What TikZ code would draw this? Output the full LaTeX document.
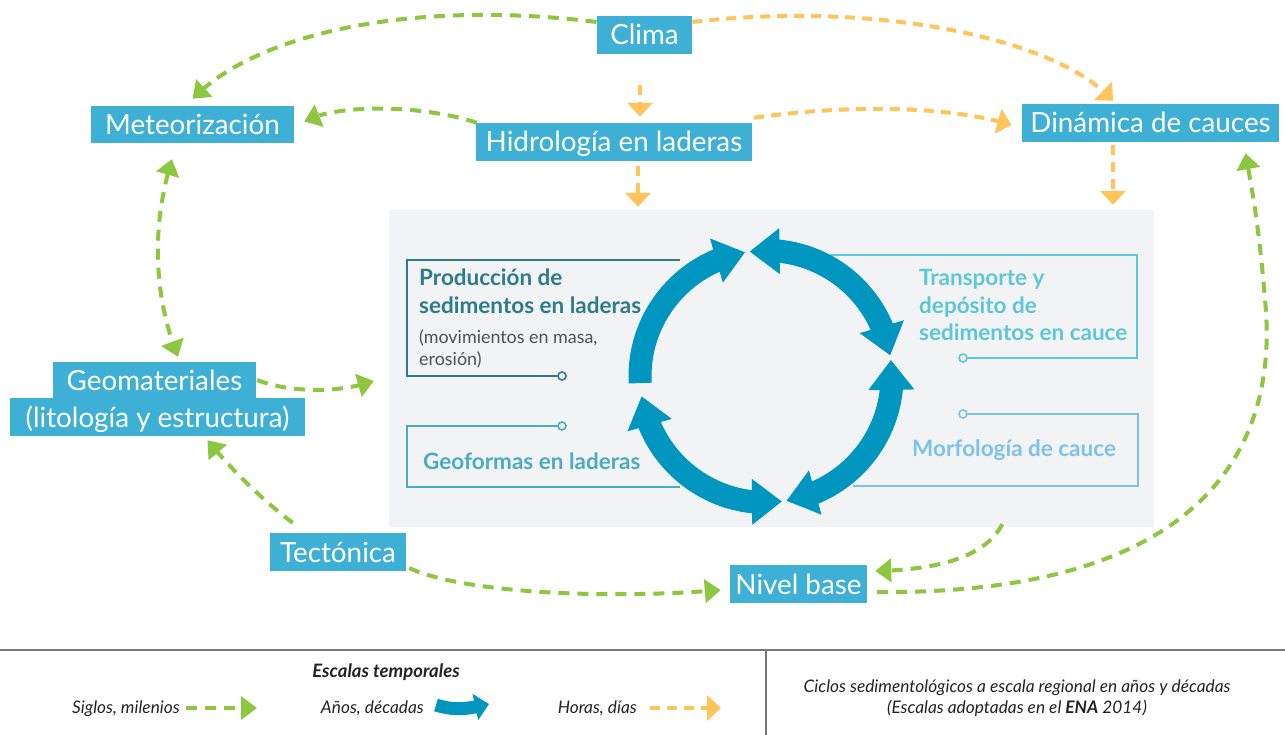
\documentclass[tikz,border=0pt]{standalone}
\usepackage{fontspec}
\setmainfont{Lato}
\usetikzlibrary{arrows.meta,bending,calc}
\definecolor{boxblue}{RGB}{63,176,213}
\definecolor{ringblue}{RGB}{0,150,192}
\definecolor{lgreen}{RGB}{141,198,63}
\definecolor{lorange}{RGB}{255,196,90}
\definecolor{panelgrey}{RGB}{242,243,245}
\definecolor{cProd}{RGB}{46,123,138}
\definecolor{cGeo}{RGB}{74,171,193}
\definecolor{cTrans}{RGB}{94,198,214}
\definecolor{cMorf}{RGB}{126,194,236}
\definecolor{smallgrey}{RGB}{80,80,80}
\definecolor{legtext}{RGB}{35,35,35}
\definecolor{sepgrey}{RGB}{120,120,120}
\tikzset{
  box/.style={fill=boxblue, text=white, inner sep=0pt, text height=20pt, text depth=0pt,
    font=\fontsize{27.8}{32}\selectfont},
  gtip/.tip={Triangle[length=16pt,width=23pt]},
  otip/.tip={Triangle[length=14pt,width=25pt]},
  rtip/.tip={Triangle[length=30pt,width=44pt]},
  garrow/.style={draw=lgreen, line width=4pt, dash pattern=on 11pt off 8pt, -gtip},
  garrowtwo/.style={draw=lgreen, line width=4pt, dash pattern=on 11pt off 8pt, gtip-gtip},
  oarrow/.style={draw=lorange, line width=4pt, dash pattern=on 10pt off 7pt, -otip},
  ring/.style={draw=ringblue, line width=23pt},
  ptext/.style={anchor=base west, inner sep=0pt, font=\fontsize{22.5}{26}\selectfont\bfseries},
  stext/.style={anchor=base west, inner sep=0pt, font=\fontsize{17.9}{21}\selectfont, text=smallgrey},
  framel/.style={line width=1.6pt},
  ltext/.style={inner sep=0pt, font=\fontsize{17.3}{20}\selectfont\itshape, text=legtext}
}
\begin{document}
\begin{tikzpicture}[x=1pt,y=-1pt]
\useasboundingbox[fill=white] (0,0) rectangle (1285,735);

% central panel
\node[fill=panelgrey, inner sep=0pt, minimum width=765pt, minimum height=317pt] (panel) at (771.5,368.5) {};

% inner frames
\draw[framel, cProd] (680,260) -- (407,260) -- (407,376) -- (558,376);
\draw[framel, cProd, fill=panelgrey] (562,376) circle[radius=4];
\draw[framel, cGeo] (558,426) -- (407,426) -- (407,487) -- (680,487);
\draw[framel, cGeo, fill=panelgrey] (562,426) circle[radius=4];
\draw[framel, cTrans] (830,255) -- (1137,255) -- (1137,358) -- (967,358);
\draw[framel, cTrans, fill=panelgrey] (963,358) circle[radius=4];
\draw[framel, cMorf] (967,414) -- (1138,414) -- (1138,486) -- (853,486);
\draw[framel, cMorf, fill=panelgrey] (963,414) circle[radius=4];

\node[ptext, text=cProd] (p1) at (419,286) {Producción de};
\node[ptext, text=cProd] (p2) at (419,313) {sedimentos en laderas};
\node[stext] (p3) at (419,343) {(movimientos en masa,};
\node[stext] (p4) at (419,365) {erosión)};
\node[ptext, text=cGeo] (g1) at (423,469) {Geoformas en laderas};
\node[ptext, text=cTrans] (t1) at (919,286) {Transporte y};
\node[ptext, text=cTrans] (t2) at (919,313) {depósito de};
\node[ptext, text=cTrans] (t3) at (919,341) {sedimentos en cauce};
\node[ptext, text=cMorf] (m1) at (912,456) {Morfología de cauce};

% ring
\coordinate (cc) at (766,376.5);
\draw[ring, -rtip] ($(cc)+(-183:126)$) arc[start angle=-183, end angle=-99.5, radius=126];
\draw[ring, rtip-rtip] ($(cc)+(-97.5:126)$) arc[start angle=-97.5, end angle=-9.6, radius=126];
\draw[ring, rtip-rtip] ($(cc)+(-7.6:126)$) arc[start angle=-7.6, end angle=80.7, radius=126];
\draw[ring, rtip-rtip] ($(cc)+(82.7:126)$) arc[start angle=82.7, end angle=171, radius=126];

% boxes
\node[box, minimum width=95.5pt, minimum height=38pt] (clima) at (644.5,35) {Clima};
\node[box, minimum width=203pt, minimum height=37pt] (meteo) at (192.5,124.5) {Meteorización};
\node[box, minimum width=276pt, minimum height=38pt] (hid) at (614,142) {Hidrología en laderas};
\node[box, minimum width=257.5pt, minimum height=38pt] (dina) at (1150.5,123) {Dinámica de cauces};
\node[box, minimum width=203pt, minimum height=36pt] (geo1) at (154.5,380) {Geomateriales};
\node[box, minimum width=295pt, minimum height=38pt] (geo2) at (157.5,417) {(litología y estructura)};
\node[box, minimum width=136pt, minimum height=38pt] (tecto) at (338,552) {Tectónica};
\node[box, minimum width=137pt, minimum height=38pt] (nivel) at (798.5,584) {Nivel base};

% connectors
\draw[garrow] ($(clima.west)+(0,-13)$) .. controls (420,0) and (260,30) .. ($(meteo.north)+(0,-7)$);
\draw[oarrow] ($(clima.east)+(0,-13)$) .. controls (880,0) and (1060,40) .. ($(dina.north)+(-37.5,-3)$);
\draw[oarrow] ($(clima.south)+(-4.5,31)$) -- ($(hid.north)+(26,-6)$);
\draw[garrow] ($(hid.north west)+(1,0)$) .. controls (420,104) and (335,104) .. ($(meteo.east)+(10,-3)$);
\draw[oarrow] ($(hid.north east)+(2,-5)$) .. controls (850,104) and (950,106) .. ($(dina.west)+(-10,2)$);
\draw[oarrow] ($(hid.south)+(24,5)$) -- ($(panel.north)+(-133.5,-3)$);
\draw[oarrow] ($(dina.south)+(-37.5,3)$) -- ($(panel.north)+(341.5,-5)$);
\draw[garrowtwo] ($(meteo.south)+(-20.5,16)$) .. controls (150,230) and (155,300) .. ($(geo1.north)+(23.5,-5)$);
\draw[garrow] ($(geo1.east)+(1,0)$) .. controls (290,393) and (340,393) .. ($(panel.west)+(-15,12.5)$);
\draw[garrow] ($(tecto.north west)+(23,-10)$) .. controls (262,500) and (230,468) .. ($(geo2.south)+(50,4)$);
\draw[garrow] ($(tecto.east)+(3,16)$) .. controls (460,592) and (600,600) .. ($(nivel.west)+(-9,6)$);
\draw[garrow] ($(panel.south east)+(-152,-3)$) .. controls (985,558) and (935,570) .. ($(nivel.east)+(8,-13)$);
\draw[garrow] ($(nivel.east)+(10,8)$) .. controls (1200,595) and (1280,450) .. (1265,300)
   .. controls (1259,225) and (1252,190) .. ($(dina.south)+(95,11)$);

% legend
\coordinate (hl1) at (0,650); \coordinate (hl2) at (1285,650);
\coordinate (vl1) at (766,650); \coordinate (vl2) at (766,735);
\draw[sepgrey, line width=1.2pt] (hl1) -- (hl2);
\draw[sepgrey, line width=1.2pt] (vl1) -- (vl2);
\node[inner sep=0pt, anchor=base, font=\fontsize{18.5}{21}\selectfont\bfseries\itshape, text=legtext] (esc) at (386,677.5) {Escalas temporales};
\node[ltext, anchor=base east] (l1) at (180,713) {Siglos, milenios};
\coordinate (lg1) at (186,708); \coordinate (lg2) at (257,708);
\draw[garrow] (lg1) -- (lg2);
\node[ltext, anchor=base east] (l2) at (424,713) {Años, décadas};
\coordinate (lb1) at (436,705); \coordinate (lb2) at (489,704);
\draw[ringblue, line width=13pt, -{Triangle[length=14pt,width=26pt]}] (lb1) .. controls (455,711) and (468,709) .. (lb2);
\node[ltext, anchor=base east] (l3) at (637,713) {Horas, días};
\coordinate (lo1) at (650,708); \coordinate (lo2) at (721,708);
\draw[oarrow] (lo1) -- (lo2);
\node[ltext, anchor=base] (r1) at (1017,692) {Ciclos sedimentológicos a escala regional en años y décadas};
\node[ltext, anchor=base] (r2) at (1017,713.5) {(Escalas adoptadas en el \textbf{ENA} 2014)};
\end{tikzpicture}
\end{document}
